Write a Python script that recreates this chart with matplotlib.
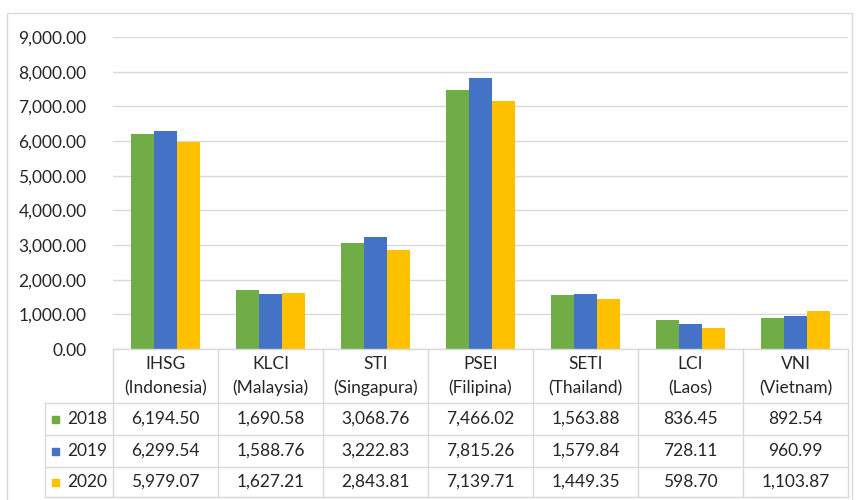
import matplotlib.pyplot as plt
from matplotlib.lines import Line2D
from matplotlib.patches import Rectangle
from matplotlib.transforms import blended_transform_factory
from matplotlib.ticker import FuncFormatter

plt.rcParams['font.family'] = ['Lato', 'DejaVu Sans']

# data
indices = ['IHSG', 'KLCI', 'STI', 'PSEI', 'SETI', 'LCI', 'VNI']
countries = ['Indonesia', 'Malaysia', 'Singapura', 'Filipina', 'Thailand', 'Laos', 'Vietnam']
years = ['2018', '2019', '2020']
v2018 = [6194.50, 1690.58, 3068.76, 7466.02, 1563.88, 836.45, 892.54]
v2019 = [6299.54, 1588.76, 3222.83, 7815.26, 1579.84, 728.11, 960.99]
v2020 = [5979.07, 1627.21, 2843.81, 7139.71, 1449.35, 598.70, 1103.87]
colors = ['#70AD47', '#4472C4', '#FFC000']

W, H = 859, 500
text_c = '#262626'
line_c = '#D9D9D9'
fs = 12.5

fig = plt.figure(figsize=(W / 100, H / 100), dpi=100)
ax = fig.add_axes([113 / W, 1 - 349 / H, (848 - 113) / W, (349 - 37) / H])

series = [v2018, v2019, v2020]
bw = 0.221
x = list(range(len(indices)))
for k, vals in enumerate(series):
    ax.bar([i + (k - 1) * bw for i in x], vals, width=bw, color=colors[k], zorder=3)

ax.set_xlim(-0.5, len(indices) - 0.5)
ax.set_ylim(0, 9000)
ax.set_yticks(range(0, 9001, 1000))
ax.yaxis.set_major_formatter(FuncFormatter(lambda v, p: f'{v:,.2f}'))
ax.tick_params(axis='y', length=0, pad=19, labelsize=fs, labelcolor=text_c)
ax.set_xticks([])
ax.grid(axis='y', color=line_c, lw=1, zorder=0)
for s in ax.spines.values():
    s.set_visible(False)

# data table below
tr = blended_transform_factory(ax.transData, fig.transFigure)
fy = lambda py: 1 - py / H
fx = lambda px: px / W

def hline(x0, x1, py):
    fig.add_artist(Line2D([fx(x0), fx(x1)], [fy(py), fy(py)], color=line_c, lw=1,
                          transform=fig.transFigure))

def vline(xd, y0, y1):
    fig.add_artist(Line2D([xd, xd], [fy(y0), fy(y1)], color=line_c, lw=1, transform=tr))

hline(113, 848, 349)
for py in [403, 435, 467, 497]:
    hline(45, 848, py)
for i in range(len(indices) + 1):
    vline(i - 0.5, 349, 497)
fig.add_artist(Line2D([fx(45), fx(45)], [fy(403), fy(497)], color=line_c, lw=1,
                      transform=fig.transFigure))

for i in x:
    fig.text(i, fy(364), indices[i], ha='center', va='center', fontsize=fs, color=text_c, transform=tr)
    fig.text(i, fy(388), f'({countries[i]})', ha='center', va='center', fontsize=fs, color=text_c, transform=tr)

row_y = [419, 451, 482]
for k, vals in enumerate(series):
    for i in x:
        fig.text(i, fy(row_y[k]), f'{vals[i]:,.2f}', ha='center', va='center', fontsize=fs,
                 color=text_c, transform=tr)
    fig.add_artist(Rectangle((fx(52), fy(row_y[k] + 3.5)), 7 / W, 7 / H, color=colors[k],
                             transform=fig.transFigure))
    fig.text(fx(67), fy(row_y[k]), years[k], ha='left', va='center', fontsize=fs, color=text_c)

# chart border
fig.add_artist(Rectangle((fx(7), fy(505)), (852 - 7) / W, (505 - 13) / H, fill=False,
                         edgecolor=line_c, lw=1, transform=fig.transFigure))

fig.savefig('out.png', dpi=100)
